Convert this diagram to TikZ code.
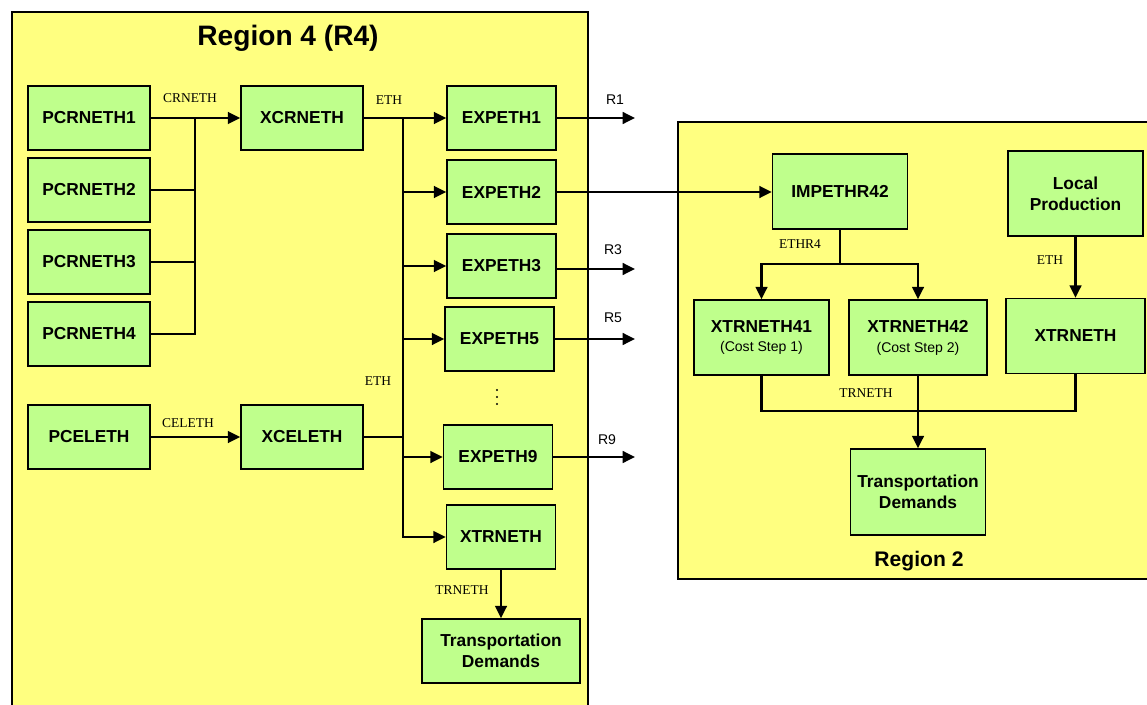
\documentclass[tikz,border=0pt]{standalone}
\usepackage{fontspec}
\setmainfont{Liberation Serif}
\setsansfont{Liberation Sans}
\usepackage{xcolor}
\usepackage{tikz}
\usetikzlibrary{arrows.meta, positioning}
\definecolor{regyellow}{HTML}{FFFF80}
\definecolor{boxgreen}{HTML}{BFFF8C}
\newcommand\costnotefont{\mdseries\fontsize{12}{14}\selectfont}

\begin{document}
\begin{tikzpicture}[x=0.03cm, y=-0.03cm,
  region/.style={draw, fill=regyellow, line width=1.3pt},
  blk/.style={draw, fill=boxgreen, line width=1.3pt, inner sep=0pt, align=center, font=\sffamily\bfseries\fontsize{14.8}{18}\selectfont},
  pbox/.style={blk, minimum width=3.66cm, minimum height=1.92cm},
  ebox/.style={blk, minimum width=3.27cm, minimum height=1.92cm},
  rbox/.style={blk, minimum width=4.05cm, minimum height=2.25cm},
  flow/.style={line width=1.8pt, -{Triangle[length=10.5pt,width=10pt]}},
  wire/.style={line width=1.8pt},
  lbl/.style={font=\fontsize{11.5}{13}\selectfont},
  rlbl/.style={font=\sffamily\fontsize{12}{14}\selectfont},
  ttl/.style={font=\sffamily\bfseries\fontsize{24}{28}\selectfont}]
\clip (0,0) rectangle (1147,705);
\fill[white] (0,0) rectangle (1147,705);
\draw[region] (12,12) rectangle (588,720);
\draw[region] (678,122) rectangle (1160,579);
\node[ttl] (r4title) at (288,38) {Region 4 (R4)};
\node[ttl, font=\sffamily\bfseries\fontsize{18}{22}\selectfont] (r2title) at (919,561) {Region 2};

\node[pbox] (pcr1) at (89,118) {PCRNETH1};
\node[pbox] (pcr2) at (89,190) {PCRNETH2};
\node[pbox] (pcr3) at (89,262) {PCRNETH3};
\node[pbox] (pcr4) at (89,334) {PCRNETH4};
\node[pbox] (pcel) at (89,437) {PCELETH};
\node[pbox] (xcr) at (302,118) {XCRNETH};
\node[pbox] (xcel) at (302,437) {XCELETH};
\node[ebox] (exp1) at (501.5,118) {EXPETH1};
\node[ebox] (exp2) at (501.5,192) {EXPETH2};
\node[ebox] (exp3) at (501.5,266) {EXPETH3};
\node[ebox] (exp5) at (499.5,339) {EXPETH5};
\foreach \k in {0,1,2}
  \fill (497,390+7*\k) circle (1pt);
\node[ebox] (exp9) at (498,457) {EXPETH9};
\node[ebox] (xtr4) at (501,537) {XTRNETH};
\node[blk, minimum width=4.74cm, minimum height=1.92cm] (td4) at (501,651) {Transportation\\Demands};

\coordinate (crbus) at (195,118);
\draw[flow] (pcr1) -- (xcr);
\draw[wire] (pcr2) -| (crbus);
\draw[wire] (pcr3) -| (crbus);
\draw[wire] (pcr4) -| (crbus);
\node[lbl] (crlbl) at (190,98) {CRNETH};
\draw[flow] (pcel) -- (xcel);
\node[lbl] (celbl) at (188,423) {CELETH};

\coordinate (ethbus) at (403,118);
\draw[flow] (xcr) -- (exp1);
\foreach \n in {exp2,exp3,exp5,exp9,xtr4}
  \draw[flow] (ethbus) |- (\n);
\draw[wire] (xcel) -| (ethbus);
\node[lbl] (ethlbl) at (389,100) {ETH};
\node[lbl] (ethlblb) at (378,381) {ETH};
\draw[flow] (xtr4) -- (td4);
\node[lbl] (trlbl) at (462,590) {TRNETH};

\coordinate (r1end) at (635,118);
\coordinate (r3end) at (635,269);
\coordinate (r5end) at (635,339);
\coordinate (r9end) at (635,457);
\draw[flow] (exp1) -- (r1end);
\draw[flow] (exp3.east |- r3end) -- (r3end);
\draw[flow] (exp5) -- (r5end);
\draw[flow] (exp9) -- (r9end);
\node[rlbl] (r1lbl) at (615,100) {R1};
\node[rlbl] (r3lbl) at (613,250) {R3};
\node[rlbl] (r5lbl) at (613,318) {R5};
\node[rlbl] (r9lbl) at (607,440) {R9};

\node[rbox] (imp) at (840,191.5) {IMPETHR42};
\node[rbox, minimum height=2.55cm] (local) at (1075.5,193.5) {Local\\Production};
\node[rbox] (x41) at (761.5,337.5) {XTRNETH41\\[-1pt]{\costnotefont (Cost Step 1)}};
\node[rbox, minimum width=4.14cm] (x42) at (918,337.5) {XTRNETH42\\[-1pt]{\costnotefont (Cost Step 2)}};
\node[rbox, minimum width=4.17cm] (xtr2) at (1075.5,336) {XTRNETH};
\node[rbox, minimum height=2.58cm] (td2) at (918,492) {Transportation\\Demands};

\draw[flow] (exp2) -- (exp2 -| imp.west);
\coordinate (impsplit) at (840,264);
\draw[wire] (imp) -- (impsplit);
\draw[flow] (impsplit) -| (x41);
\draw[flow] (impsplit) -| (x42);
\node[lbl] (ethr4lbl) at (800,244) {ETHR4};
\draw[flow] (local) -- (xtr2);
\node[lbl] (ethlblc) at (1050,260) {ETH};
\coordinate (trbus) at (918,411);
\draw[wire] (x41) |- (trbus);
\draw[wire] (xtr2) |- (trbus);
\draw[flow] (x42) -- (td2);
\node[lbl] (trlblb) at (866,393) {TRNETH};
\end{tikzpicture}
\end{document}
